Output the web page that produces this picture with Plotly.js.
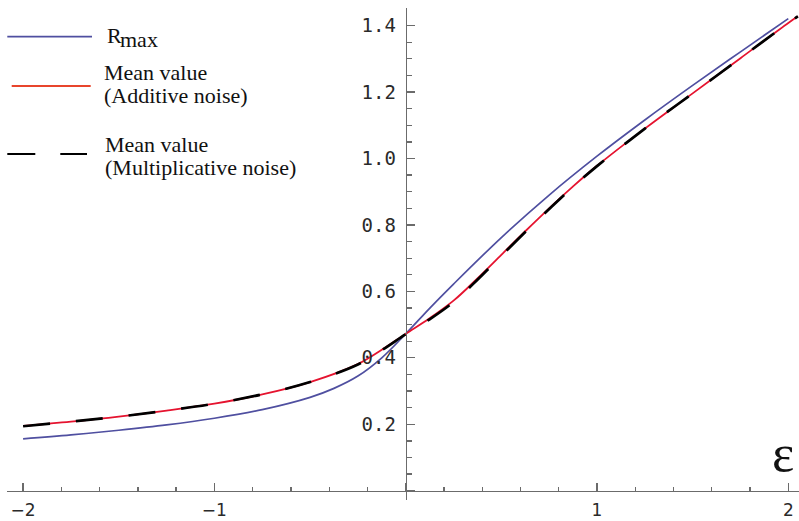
<!DOCTYPE html>
<html>
<head>
<meta charset="utf-8">
<script src="https://cdn.plot.ly/plotly-3.0.1.min.js"></script>
<style>
html,body{margin:0;padding:0;background:#fff;}
#chart{width:799px;height:521px;}
</style>
</head>
<body>
<div id="chart"></div>
<script>
// ---- data ----
const epsRmax = [-2, -1.75, -1.5, -1.25, -1, -0.75, -0.5, -0.375, -0.25, -0.125, 0, 0.125, 0.25, 0.5, 0.75, 1, 1.25, 1.5, 1.75, 2];
const rMax    = [0.156, 0.168, 0.182, 0.198, 0.218, 0.244, 0.281, 0.308, 0.345, 0.400, 0.472, 0.549, 0.622, 0.762, 0.890, 1.007, 1.116, 1.220, 1.321, 1.421];

const epsMean = [-2, -1.75, -1.5, -1.25, -1, -0.75, -0.5, -0.25, -0.125, 0, 0.125, 0.25, 0.375, 0.5, 0.625, 0.75, 0.875, 1, 1.25, 1.5, 1.75, 2, 2.05];
const meanAdditive       = [0.195, 0.208, 0.223, 0.241, 0.262, 0.290, 0.327, 0.381, 0.424, 0.472, 0.519, 0.572, 0.639, 0.710, 0.781, 0.850, 0.916, 0.978, 1.090, 1.196, 1.302, 1.408, 1.428];
const meanMultiplicative = [0.194, 0.208, 0.223, 0.241, 0.262, 0.290, 0.327, 0.380, 0.423, 0.471, 0.516, 0.568, 0.635, 0.707, 0.779, 0.848, 0.915, 0.977, 1.090, 1.196, 1.302, 1.408, 1.428];

const seriesNames = ["R<sub>max</sub>", "Mean value (Additive noise)", "Mean value (Multiplicative noise)"];
const xTickVals = [-2, -1, 0, 1, 2];
const xTickText = ['\u22122', '\u22121', '', '1', '2'];

// ---- helpers for pixel placement of decorations ----
const W = 799, H = 521;
const px = v => v / W;
const py = v => 1 - v / H;

const axisCol = '#6b6b6b';
const legendFont = {family: 'Liberation Serif', size: 22, color: '#111'};

const traces = [
  {x: epsRmax, y: rMax, name: seriesNames[0], mode: 'lines',
   line: {color: '#4f4fa0', width: 1.7, shape: 'spline', smoothing: 1}},
  {x: epsMean, y: meanAdditive, name: seriesNames[1], mode: 'lines',
   line: {color: '#e5132f', width: 1.8, shape: 'spline', smoothing: 1}},
  {x: epsMean, y: meanMultiplicative, name: seriesNames[2], mode: 'lines',
   line: {color: '#000000', width: 2.7, dash: '27px,26px', shape: 'spline', smoothing: 1}}
];

const layout = {
  width: W, height: H,
  margin: {l: 0, r: 0, t: 0, b: 0, pad: 0},
  paper_bgcolor: '#fff', plot_bgcolor: 'rgba(0,0,0,0)',
  showlegend: false,
  xaxis: {
    domain: [0.00914, 1], range: [-2.0826, 2.0559],
    anchor: 'free', position: 0.0582,
    showline: true, linecolor: axisCol, linewidth: 1.3,
    showgrid: false, zeroline: false,
    tickmode: 'array', tickvals: xTickVals, ticktext: xTickText,
    ticks: 'inside', ticklen: 8, tickwidth: 1.3, tickcolor: axisCol,
    ticklabelstandoff: 4,
    tickfont: {family: 'DejaVu Sans', size: 17, color: '#2a2a2a'},
    minor: {tickmode: 'linear', tick0: 0, dtick: 0.2, ticks: 'inside', ticklen: 4, tickwidth: 1.3, tickcolor: axisCol, showgrid: false},
    fixedrange: true
  },
  yaxis: {
    domain: [0.0403, 0.984], range: [-0.028, 1.452],
    anchor: 'free', position: 0.5078,
    showline: true, linecolor: axisCol, linewidth: 1.3,
    showgrid: false, zeroline: false,
    tickmode: 'linear', tick0: 0, dtick: 0.2, tickformat: '.1f',
    labelalias: {'0.0': ''},
    ticks: 'inside', ticklen: 8, tickwidth: 1.3, tickcolor: axisCol,
    ticklabelstandoff: 6,
    tickfont: {family: 'DejaVu Sans Mono', size: 19, color: '#2a2a2a'},
    minor: {tickmode: 'linear', tick0: 0, dtick: 0.05, ticks: 'inside', ticklen: 5, tickwidth: 1.3, tickcolor: axisCol, showgrid: false},
    fixedrange: true
  },
  shapes: [
    {type: 'line', xref: 'paper', yref: 'paper', x0: px(7.3), x1: px(92), y0: py(36.7), y1: py(36.7),
     line: {color: '#4f4fa0', width: 1.7}},
    {type: 'line', xref: 'paper', yref: 'paper', x0: px(11.7), x1: px(90.7), y0: py(86), y1: py(86),
     line: {color: '#e8452c', width: 1.8}},
    {type: 'line', xref: 'paper', yref: 'paper', x0: px(7.3), x1: px(87), y0: py(154), y1: py(154),
     line: {color: '#000', width: 2.2, dash: '28px,25px'}}
  ],
  annotations: [
    {text: 'R', x: px(105), y: py(35.5), xref: 'paper', yref: 'paper', xanchor: 'left', yanchor: 'middle', showarrow: false, font: legendFont},
    {text: 'max', x: px(118), y: py(39.5), xref: 'paper', yref: 'paper', xanchor: 'left', yanchor: 'middle', showarrow: false, font: legendFont},
    {text: 'Mean value', x: px(102), y: py(72.5), xref: 'paper', yref: 'paper', xanchor: 'left', yanchor: 'middle', showarrow: false, font: legendFont},
    {text: '(Additive noise)', x: px(102), y: py(95.5), xref: 'paper', yref: 'paper', xanchor: 'left', yanchor: 'middle', showarrow: false, font: legendFont},
    {text: 'Mean value', x: px(103), y: py(144.5), xref: 'paper', yref: 'paper', xanchor: 'left', yanchor: 'middle', showarrow: false, font: legendFont},
    {text: '(Multiplicative noise)', x: px(103), y: py(167.5), xref: 'paper', yref: 'paper', xanchor: 'left', yanchor: 'middle', showarrow: false, font: legendFont},
    {text: '\u03b5', x: px(782.5), y: py(453), xref: 'paper', yref: 'paper', xanchor: 'center', yanchor: 'middle', showarrow: false,
     font: {family: 'Liberation Serif', size: 53, color: '#111'}}
  ]
};

Plotly.newPlot('chart', traces, layout, {staticPlot: true, displayModeBar: false});
</script>
</body>
</html>
